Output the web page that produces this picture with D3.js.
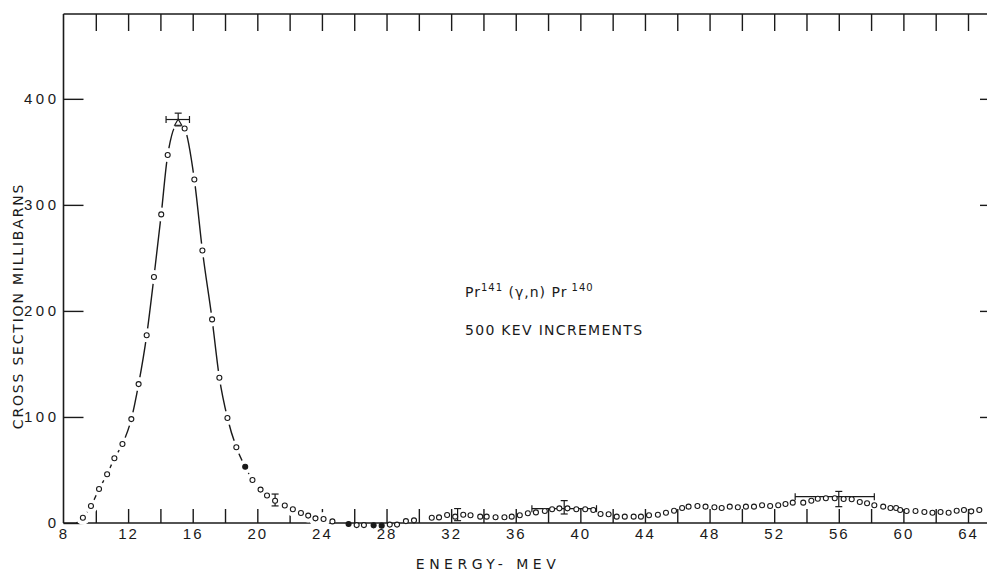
<!DOCTYPE html>
<html lang="en">
<head>
<meta charset="UTF-8">
<title>Pr141 (γ,n) Pr140</title>
<script src="https://cdn.jsdelivr.net/npm/d3@7/dist/d3.min.js"></script>
<style>
    html, body { margin: 0; padding: 0; background: #fff; }
    svg { display: block; font-family: "DejaVu Sans", sans-serif; }
    .tick line { stroke: #1a1a1a; stroke-width: 1.4; }
    .frame { stroke: #1a1a1a; stroke-width: 1.6; }
</style>
</head>
<body>
<script>
    // measured points, 500 keV increments
    var energy = [9.2, 9.7, 10.2, 10.7, 11.15, 11.65, 12.2, 12.65, 13.15, 13.6, 14.05, 14.45,
        15.5, 16.1, 16.6, 17.2, 17.65, 18.15, 18.7, 19.25, 19.7, 20.2, 20.6, 21.1, 21.7,
        22.2, 22.7, 23.15, 23.6, 24.1, 24.65, 25.65, 26.15, 26.6, 27.2, 27.7, 28.2, 28.65,
        29.2, 29.7, 30.8, 31.25, 31.75, 32.25, 32.75, 33.2, 33.8, 34.2, 34.75, 35.3, 35.75,
        36.25, 36.75, 37.25, 37.8, 38.25, 38.7, 39.2, 39.75, 40.3, 40.8, 41.25, 41.75, 42.25,
        42.75, 43.3, 43.75, 44.25, 44.8, 45.3, 45.8, 46.3, 46.7, 47.25, 47.75, 48.3, 48.75,
        49.25, 49.75, 50.25, 50.75, 51.25, 51.75, 52.25, 52.7, 53.15, 53.8, 54.3, 54.7, 55.2,
        55.75, 56.3, 56.8, 57.3, 57.75, 58.2, 58.75, 59.2, 59.55, 59.8, 60.2, 60.75, 61.3,
        61.8, 62.3, 62.8, 63.3, 63.75, 64.2, 64.7];
    var crossSection = [5, 16, 32, 46, 61, 74.5, 98, 131, 177, 232, 291, 347,
        372, 324, 257, 192, 137, 99, 71.5, 53, 40.6, 31.5, 26, 21, 16.5,
        13, 9.5, 7, 4.4, 3.8, 1.5, -1, -2, -2, -2.2, -2.5, -1.5, -1.5,
        1.8, 2.5, 5, 5.3, 7.5, 6, 7.8, 7.3, 6, 6, 5.4, 5.4, 6,
        7.3, 9.2, 10, 11.3, 12.9, 13.8, 13.8, 12.9, 12.9, 12.3, 8.5, 8.2, 6,
        6, 6, 6, 7.3, 7.8, 9.7, 11.6, 14.2, 15.4, 16, 15.4, 14.8, 14.2,
        15.4, 14.8, 15.4, 15.4, 16.7, 16, 16.7, 17.9, 19.2, 19.2, 21, 22.9, 23.3,
        23.3, 22.6, 22.4, 19.8, 18.6, 16.7, 15.4, 14.2, 14.2, 12.3, 11.3, 11.3, 10.4,
        9.7, 10.4, 9.7, 11.6, 12.3, 11, 12.3];
    var filledEnergy = [19.25, 25.65, 27.2, 27.7];

    // peak point (triangle) and hand drawn curve through the giant resonance
    var peakEnergy = 15.1, peakValue = 377;
    var curveStart = [8.8, 0];
    var curveEndEnergy = 24.1;

    // error bars
    var errEnergy = [15.1, 21.1, 32.4, 39.0, 56.0];
    var errCenter = [380.5, 21.7, 7.9, 14.8, 22.6];
    var errHalf = [6, 5.6, 5.7, 6.3, 7.2];
    var spanLo = [14.35, 37.0, 53.3];
    var spanHi = [15.8, 41.0, 58.2];
    var spanValue = [380.5, 13.5, 24.8];

    var xLabelTicks = d3.range(8, 65, 4);
    var xMinorTicks = d3.range(10, 65, 2);
    var yTicks = [0, 100, 200, 300, 400];

    var width = 987, height = 573;
    var x = d3.scaleLinear().domain([8, 64]).range([63.5, 968]);
    var y = d3.scaleLinear().domain([0, 480]).range([523, 14]);
    var ink = '#1a1a1a';

    var svg = d3.select('body').append('svg')
        .attr('width', width)
        .attr('height', height);

    // frame lines
    svg.append('line').attr('class', 'frame')
        .attr('x1', x(8)).attr('x2', width).attr('y1', y(480)).attr('y2', y(480));
    svg.append('line').attr('class', 'frame')
        .attr('x1', x(8)).attr('x2', width).attr('y1', y(0)).attr('y2', y(0));
    svg.append('line').attr('class', 'frame')
        .attr('x1', x(8)).attr('x2', x(8)).attr('y1', y(480)).attr('y2', y(0));

    // bottom: inward ticks every 2 MeV, labels every 4
    svg.append('g')
        .attr('transform', 'translate(0,' + y(0) + ')')
        .call(d3.axisBottom(x).tickValues(xMinorTicks).tickSize(-14).tickFormat(''))
        .call(function(g){ g.select('.domain').remove(); });
    svg.append('g')
        .attr('transform', 'translate(0,' + y(0) + ')')
        .call(d3.axisBottom(x).tickValues(xLabelTicks).tickSize(0).tickPadding(5).tickFormat(d3.format('d')))
        .call(function(g){
            g.select('.domain').remove();
            g.selectAll('text').attr('dy', '0.74em')
                .style('font-size', '15px').style('letter-spacing', '2px').attr('fill', ink);
        });

    // top: ticks hanging down
    svg.append('g')
        .attr('transform', 'translate(0,' + y(480) + ')')
        .call(d3.axisTop(x).tickValues(xMinorTicks).tickSize(-17).tickFormat(''))
        .call(function(g){ g.select('.domain').remove(); });

    // left axis, inward ticks
    svg.append('g')
        .attr('transform', 'translate(' + x(8) + ',0)')
        .call(d3.axisLeft(y).tickValues(yTicks).tickSizeInner(-20).tickSizeOuter(0).tickPadding(4))
        .call(function(g){
            g.select('.domain').remove();
            g.selectAll('text')
                .style('font-size', '15px').style('letter-spacing', '3.5px').attr('fill', ink);
        });

    // right edge ticks
    svg.append('g')
        .attr('transform', 'translate(980,0)')
        .call(d3.axisRight(y).tickValues([100, 200, 300, 400]).tickSize(8).tickFormat(''))
        .call(function(g){ g.select('.domain').remove(); });

    // axis titles
    svg.append('text')
        .attr('x', 488).attr('y', 569)
        .attr('text-anchor', 'middle')
        .style('font-size', '14px').style('letter-spacing', '4.5px').attr('fill', ink)
        .text('ENERGY- MEV');
    svg.append('text')
        .attr('transform', 'translate(23,306) rotate(-90)')
        .attr('text-anchor', 'middle')
        .style('font-size', '14px').style('letter-spacing', '1.8px').attr('fill', ink)
        .text('CROSS SECTION MILLIBARNS');

    // annotation
    var note = svg.append('text')
        .attr('x', 465).attr('y', 297)
        .style('font-size', '14px').style('letter-spacing', '1px').attr('fill', ink);
    note.append('tspan').text('Pr');
    note.append('tspan').attr('dy', -6).style('font-size', '10px').text('141');
    note.append('tspan').attr('dy', 6).text(' (γ,n) Pr');
    note.append('tspan').attr('dy', -6).style('font-size', '10px').text(' 140');
    svg.append('text')
        .attr('x', 465).attr('y', 335)
        .style('font-size', '14px').style('letter-spacing', '1.3px').attr('fill', ink)
        .text('500 KEV  INCREMENTS');

    // curve through the peak region
    var pts = energy.map(function(e, i){ return { e: e, v: crossSection[i], filled: filledEnergy.indexOf(e) >= 0 }; });
    var curvePts = [{ e: curveStart[0], v: curveStart[1] }]
        .concat(pts.filter(function(d){ return d.e <= curveEndEnergy; }))
        .concat([{ e: peakEnergy, v: peakValue }])
        .sort(function(a, b){ return a.e - b.e; });

    var line = d3.line()
        .x(function(d){ return x(d.e); })
        .y(function(d){ return y(d.v); })
        .curve(d3.curveMonotoneX);

    svg.append('path')
        .datum(curvePts)
        .attr('d', line)
        .attr('fill', 'none')
        .attr('stroke', ink)
        .attr('stroke-width', 1.4);

    // white gaps where the pen was lifted around each point
    svg.append('g').selectAll('circle')
        .data(curvePts.slice(1))
        .enter().append('circle')
        .attr('cx', function(d){ return x(d.e); })
        .attr('cy', function(d){ return y(d.v); })
        .attr('r', 7)
        .attr('fill', '#fff');

    // error bars
    var eb = svg.append('g').attr('stroke', ink).attr('stroke-width', 1.2);
    errEnergy.forEach(function(e, i){
        var cx = x(e), y1 = y(errCenter[i] + errHalf[i]), y2 = y(errCenter[i] - errHalf[i]);
        eb.append('line').attr('x1', cx).attr('x2', cx).attr('y1', y1).attr('y2', y2);
        eb.append('line').attr('x1', cx - 3.5).attr('x2', cx + 3.5).attr('y1', y1).attr('y2', y1);
        eb.append('line').attr('x1', cx - 3.5).attr('x2', cx + 3.5).attr('y1', y2).attr('y2', y2);
    });
    spanLo.forEach(function(lo, i){
        var yy = y(spanValue[i]);
        eb.append('line').attr('x1', x(lo)).attr('x2', x(spanHi[i])).attr('y1', yy).attr('y2', yy);
        eb.append('line').attr('x1', x(lo)).attr('x2', x(lo)).attr('y1', yy - 3.5).attr('y2', yy + 3.5);
        eb.append('line').attr('x1', x(spanHi[i])).attr('x2', x(spanHi[i])).attr('y1', yy - 3.5).attr('y2', yy + 3.5);
    });

    // peak triangle
    var tx = x(peakEnergy), ty = y(peakValue);
    svg.append('path')
        .attr('d', d3.symbol().type(d3.symbolTriangle).size(22))
        .attr('transform', 'translate(' + tx + ',' + ty + ')')
        .attr('fill', '#fff')
        .attr('stroke', ink)
        .attr('stroke-width', 1.1);

    // data points
    svg.append('g').selectAll('circle')
        .data(pts)
        .enter().append('circle')
        .attr('cx', function(d){ return x(d.e); })
        .attr('cy', function(d){ return y(d.v); })
        .attr('r', 2.5)
        .attr('fill', function(d){ return d.filled ? ink : '#fff'; })
        .attr('stroke', ink)
        .attr('stroke-width', 1.1);
</script>
</body>
</html>
